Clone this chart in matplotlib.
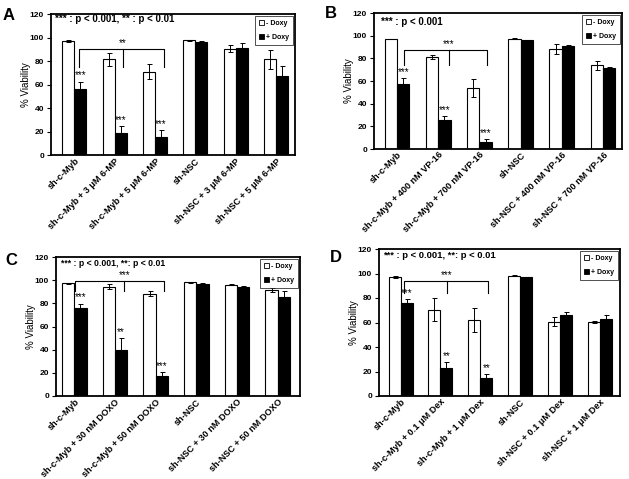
import matplotlib
matplotlib.use("Agg")
import matplotlib.pyplot as plt
from matplotlib.patches import Patch
from matplotlib.transforms import ScaledTranslation
import numpy as np

plt.rcParams['font.family'] = ['Liberation Sans', 'DejaVu Sans']

# ---------------- data ----------------
labels_A = ["sh-c-Myb", "sh-c-Myb + 3 μM 6-MP", "sh-c-Myb + 5 μM 6-MP",
            "sh-NSC", "sh-NSC + 3 μM 6-MP", "sh-NSC + 5 μM 6-MP"]
minus_A = [97, 81.5, 71, 97.5, 90.5, 81.5]
minus_err_A = [0.5, 5.5, 6.5, 0.5, 3, 8]
plus_A = [56.5, 19, 15.5, 96, 91, 67]
plus_err_A = [6, 5.5, 5.5, 0.8, 4.5, 9]
stars_A = ["***", "***", "***"]
note_A = "*** : p < 0.001, ** : p < 0.01"
bracket_A = "**"

labels_B = ["sh-c-Myb", "sh-c-Myb + 400 nM VP-16", "sh-c-Myb + 700 nM VP-16",
            "sh-NSC", "sh-NSC + 400 nM VP-16", "sh-NSC + 700 nM VP-16"]
minus_B = [97, 81.5, 54, 97.5, 88.5, 74]
minus_err_B = [0.3, 1.8, 8, 0.3, 4.5, 4]
plus_B = [57.5, 26, 6.5, 96, 91, 71.5]
plus_err_B = [5.3, 3, 2.5, 0.5, 0.8, 1.2]
stars_B = ["***", "***", "***"]
note_B = "*** : p < 0.001"
bracket_B = "***"

labels_C = ["sh-c-Myb", "sh-c-Myb + 30 nM DOXO", "sh-c-Myb + 50 nM DOXO",
            "sh-NSC", "sh-NSC + 30 nM DOXO", "sh-NSC + 50 nM DOXO"]
minus_C = [97.3, 94.5, 88.3, 98.2, 96.2, 91.8]
minus_err_C = [0.5, 2, 2.3, 0.3, 0.5, 1.7]
plus_C = [76, 39.7, 17, 97, 94.2, 85.5]
plus_err_C = [3.7, 10, 3.3, 0.5, 0.6, 5]
stars_C = ["***", "**", "***"]
note_C = "*** : p < 0.001, **: p < 0.01"
bracket_C = "***"

labels_D = ["sh-c-Myb", "sh-c-Myb + 0.1 μM Dex", "sh-c-Myb + 1 μM Dex",
            "sh-NSC", "sh-NSC + 0.1 μM Dex", "sh-NSC + 1 μM Dex"]
minus_D = [97.1, 70.4, 62.2, 98.2, 60.8, 60.3]
minus_err_D = [0.5, 9.5, 10, 0.3, 4, 0.8]
plus_D = [75.8, 23.2, 14.5, 97, 66.3, 62.7]
plus_err_D = [3.3, 4.3, 3.3, 0.5, 2, 3.6]
stars_D = ["***", "**", "**"]
note_D = "*** : p < 0.001, **: p < 0.01"
bracket_D = "***"

legend_labels = ["- Doxy", "+ Doxy"]
yticks = [0, 20, 40, 60, 80, 100, 120]

# ---------------- layout ----------------
W, H = 629, 479
fig = plt.figure(figsize=(W / 100, H / 100), dpi=100)


def rect(l, r, t, b):
    return [l / W, 1 - b / H, (r - l) / W, (b - t) / H]


panels = [
    dict(letter="A", rect=rect(51, 295, 14, 155), xlim=(-0.58, 5.47),
         labels=labels_A, minus=minus_A, merr=minus_err_A, plus=plus_A, perr=plus_err_A,
         stars=stars_A, note=note_A, note_fs=7, note_x=0.015, note_y=116,
         br=bracket_A, br_x=(0.12, 1.2, 2.22), br_y=(90, 75),
         letter_xy=(3, 20)),
    dict(letter="B", rect=rect(374, 622, 13, 149), xlim=(-0.56, 5.46),
         labels=labels_B, minus=minus_B, merr=minus_err_B, plus=plus_B, perr=plus_err_B,
         stars=stars_B, note=note_B, note_fs=7, note_x=0.03, note_y=112,
         br=bracket_B, br_x=(0.17, 1.26, 2.18), br_y=(87, 74),
         letter_xy=(325, 18)),
    dict(letter="C", rect=rect(56, 300, 257, 396), xlim=(-0.45, 5.55),
         labels=labels_C, minus=minus_C, merr=minus_err_C, plus=plus_C, perr=plus_err_C,
         stars=stars_C, note=note_C, note_fs=6.2, note_x=0.02, note_y=114.5,
         br=bracket_C, br_x=(0.02, 1.23, 2.2), br_y=(99, 91),
         letter_xy=(5, 265)),
    dict(letter="D", rect=rect(379, 620, 249, 396), xlim=(-0.54, 5.5),
         labels=labels_D, minus=minus_D, merr=minus_err_D, plus=plus_D, perr=plus_err_D,
         stars=stars_D, note=note_D, note_fs=6.8, note_x=0.015, note_y=115,
         br=bracket_D, br_x=(0.08, 1.16, 2.2), br_y=(93.5, 84),
         letter_xy=(330, 262)),
]

bw = 0.3
for p in panels:
    ax = fig.add_axes(p["rect"])
    x = np.arange(len(p["labels"]))
    ax.bar(x - bw / 2, p["minus"], bw, color="white", edgecolor="black", linewidth=0.8,
           yerr=p["merr"], error_kw=dict(ecolor="black", elinewidth=0.7, capsize=1.8, capthick=0.7))
    ax.bar(x + bw / 2, p["plus"], bw, color="black", edgecolor="black", linewidth=0.8,
           yerr=p["perr"], error_kw=dict(ecolor="black", elinewidth=0.7, capsize=1.8, capthick=0.7))
    ax.set_xlim(*p["xlim"])
    ax.set_ylim(0, 120)
    ax.set_yticks(yticks)
    ax.set_yticklabels([str(v) for v in yticks], fontsize=6, fontweight="bold")
    ax.set_xticks(x)
    tls = ax.set_xticklabels(p["labels"], rotation=45, ha="right", va="top",
                             rotation_mode="anchor", fontsize=6.6, fontweight="bold")
    off = ScaledTranslation(4 / 72, 0, fig.dpi_scale_trans)
    for t in tls:
        t.set_transform(t.get_transform() + off)
    ax.tick_params(axis="x", length=0, pad=1)
    ax.tick_params(axis="y", length=3, width=0.8, pad=2)
    for s in ax.spines.values():
        s.set_linewidth(1.3)
    ax.set_ylabel("% Viability", fontsize=7, labelpad=-1)

    # significance stars above treated bars
    for i, st in enumerate(p["stars"]):
        top = p["plus"][i] + p["perr"][i]
        ax.text(x[i] + bw / 2, top + 1.0, st, ha="center", va="bottom", fontsize=7)

    # bracket
    xl, xm, xr = p["br_x"]
    yt, yb = p["br_y"]
    ax.plot([xl, xl, xr, xr], [yb, yt, yt, yb], color="black", lw=0.8)
    ax.plot([xm, xm], [yt, yb], color="black", lw=0.8)
    ax.text(xm, yt + 1.0, p["br"], ha="center", va="bottom", fontsize=7)

    # note
    ax.text(p["note_x"], p["note_y"], p["note"], transform=ax.get_yaxis_transform(),
            ha="left", va="center", fontsize=p["note_fs"], fontweight="bold")

    # legend
    handles = [Patch(facecolor="white", edgecolor="black", linewidth=0.6),
               Patch(facecolor="black", edgecolor="black", linewidth=0.6)]
    leg = ax.legend(handles, legend_labels, loc="upper right",
                    prop=dict(weight="bold", size=5), frameon=True, fancybox=False,
                    handlelength=0.7, handleheight=0.7, handletextpad=0.3,
                    borderpad=0.6, labelspacing=1.0, borderaxespad=0.3)
    leg.get_frame().set_edgecolor("black")
    leg.get_frame().set_linewidth(0.6)

    fig.text(p["letter_xy"][0] / W, 1 - p["letter_xy"][1] / H, p["letter"],
             fontsize=12, fontweight="bold", ha="left", va="baseline")

fig.savefig("out.png", dpi=100)
